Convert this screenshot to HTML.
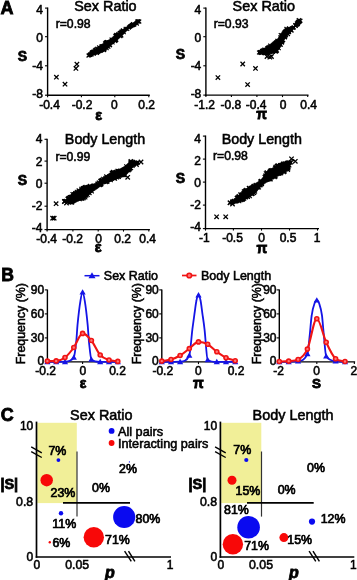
<!DOCTYPE html>
<html><head><meta charset="utf-8"><title>Figure</title>
<style>html,body{margin:0;padding:0;background:#fff}svg{display:block}text{font-family:"Liberation Sans",sans-serif;fill:#000;stroke:#000;stroke-width:0.55px}text[font-weight=bold]{stroke-width:0.8px}text.p{stroke-width:0.7px}</style>
</head><body>
<svg width="357" height="580" viewBox="0 0 357 580">
<rect width="357" height="580" fill="#fff"/>
<text x="0.6" y="14.2" font-size="18" font-weight="bold">A</text>
<line x1="47.6" y1="7.5" x2="47.6" y2="95.9" stroke="#000" stroke-width="1.4"/>
<line x1="46.9" y1="95.2" x2="149.8" y2="95.2" stroke="#000" stroke-width="1.4"/>
<line x1="45.0" y1="8.1" x2="47.6" y2="8.1" stroke="#000" stroke-width="1.1"/>
<text x="43.0" y="13.9" font-size="12" text-anchor="end">4</text>
<line x1="45.0" y1="36.7" x2="47.6" y2="36.7" stroke="#000" stroke-width="1.1"/>
<text x="43.0" y="41.7" font-size="12" text-anchor="end">0</text>
<line x1="45.0" y1="65.8" x2="47.6" y2="65.8" stroke="#000" stroke-width="1.1"/>
<text x="43.0" y="70.4" font-size="12" text-anchor="end">-4</text>
<line x1="45.0" y1="95.2" x2="47.6" y2="95.2" stroke="#000" stroke-width="1.1"/>
<text x="43.0" y="98.3" font-size="12" text-anchor="end">-8</text>
<line x1="47.6" y1="95.2" x2="47.6" y2="97.2" stroke="#000" stroke-width="1.1"/>
<text x="49.5" y="108.8" font-size="12" text-anchor="middle">-0.4</text>
<line x1="81.4" y1="95.2" x2="81.4" y2="97.2" stroke="#000" stroke-width="1.1"/>
<text x="82" y="108.8" font-size="12" text-anchor="middle">-0.2</text>
<line x1="114.8" y1="95.2" x2="114.8" y2="97.2" stroke="#000" stroke-width="1.1"/>
<text x="114.3" y="108.8" font-size="12" text-anchor="middle">0</text>
<line x1="148.8" y1="95.2" x2="148.8" y2="97.2" stroke="#000" stroke-width="1.1"/>
<text x="146.7" y="108.8" font-size="12" text-anchor="middle">0.2</text>
<text x="105.4" y="10.5" font-size="14.4" text-anchor="middle">Sex Ratio</text>
<text x="55.7" y="28.4" font-size="12.2">r=0.98</text>
<text x="98.6" y="119.6" font-size="14.5" text-anchor="middle" font-weight="bold">ε</text>
<text x="22.5" y="60.8" font-size="14" text-anchor="middle" font-weight="bold">S</text>
<path d="M90.0 54.0L91.2 52.5L92.4 51.2L93.6 50.3L94.8 49.4L96.0 48.5L97.2 47.6L98.4 46.7L99.6 45.9L100.8 45.1L102.0 44.2L103.1 43.4L104.3 42.6L105.5 41.8L106.7 41.1L107.9 40.5L109.1 39.8L110.3 39.0L111.5 37.9L112.7 36.9L113.9 35.8L115.1 34.7L116.3 34.0L117.5 33.3L118.7 32.5L119.9 31.8L121.1 30.8L122.3 29.9L123.5 28.9L124.7 28.0L125.9 27.4L127.0 26.9L128.2 26.5L129.4 26.2L130.6 25.7L131.8 24.5L133.0 23.0L134.2 22.1L135.4 21.1L136.6 20.5L137.8 20.6L137.8 24.0L136.6 25.1L135.4 25.6L134.2 25.8L133.0 26.0L131.8 26.1L130.6 26.5L129.4 27.7L128.2 29.1L127.0 30.5L125.9 31.8L124.7 33.0L123.5 34.2L122.3 35.3L121.1 36.5L119.9 37.6L118.7 38.7L117.5 39.9L116.3 41.0L115.1 42.1L113.9 43.1L112.7 44.1L111.5 45.1L110.3 46.0L109.1 47.1L107.9 48.3L106.7 49.4L105.5 50.6L104.3 51.4L103.1 51.9L102.0 52.4L100.8 52.9L99.6 53.4L98.4 53.8L97.2 54.2L96.0 54.5L94.8 54.8L93.6 55.1L92.4 55.4L91.2 55.5L90.0 55.4Z" fill="#000" stroke="#000" stroke-width="0.6" stroke-linejoin="round"/>
<path d="M103.1 41.5l3.8 3.8m-3.8 0l3.8 -3.8M119.7 29.5l3.8 3.8m-3.8 0l3.8 -3.8M113.8 34.3l3.8 3.8m-3.8 0l3.8 -3.8M89.5 52.1l3.8 3.8m-3.8 0l3.8 -3.8M88.5 52.5l3.8 3.8m-3.8 0l3.8 -3.8M90.1 50.4l3.8 3.8m-3.8 0l3.8 -3.8M108.2 43.2l3.8 3.8m-3.8 0l3.8 -3.8M92.9 48.7l3.8 3.8m-3.8 0l3.8 -3.8M118.5 34.4l3.8 3.8m-3.8 0l3.8 -3.8M115.9 33.0l3.8 3.8m-3.8 0l3.8 -3.8M136.2 19.5l3.8 3.8m-3.8 0l3.8 -3.8M130.2 23.1l3.8 3.8m-3.8 0l3.8 -3.8M93.9 47.7l3.8 3.8m-3.8 0l3.8 -3.8M102.3 48.2l3.8 3.8m-3.8 0l3.8 -3.8M95.8 50.1l3.8 3.8m-3.8 0l3.8 -3.8M119.1 30.6l3.8 3.8m-3.8 0l3.8 -3.8M114.4 33.0l3.8 3.8m-3.8 0l3.8 -3.8M89.6 51.1l3.8 3.8m-3.8 0l3.8 -3.8M121.2 29.1l3.8 3.8m-3.8 0l3.8 -3.8M102.6 47.0l3.8 3.8m-3.8 0l3.8 -3.8M109.6 37.6l3.8 3.8m-3.8 0l3.8 -3.8M127.0 25.7l3.8 3.8m-3.8 0l3.8 -3.8M99.0 48.6l3.8 3.8m-3.8 0l3.8 -3.8M113.3 39.1l3.8 3.8m-3.8 0l3.8 -3.8M123.7 26.8l3.8 3.8m-3.8 0l3.8 -3.8M136.4 19.5l3.8 3.8m-3.8 0l3.8 -3.8M107.8 43.3l3.8 3.8m-3.8 0l3.8 -3.8M94.3 48.9l3.8 3.8m-3.8 0l3.8 -3.8M88.6 52.7l3.8 3.8m-3.8 0l3.8 -3.8M125.4 27.0l3.8 3.8m-3.8 0l3.8 -3.8M131.1 22.1l3.8 3.8m-3.8 0l3.8 -3.8M121.9 30.3l3.8 3.8m-3.8 0l3.8 -3.8M116.1 33.3l3.8 3.8m-3.8 0l3.8 -3.8M129.3 23.8l3.8 3.8m-3.8 0l3.8 -3.8M110.7 40.6l3.8 3.8m-3.8 0l3.8 -3.8M89.7 52.5l3.8 3.8m-3.8 0l3.8 -3.8M119.5 33.5l3.8 3.8m-3.8 0l3.8 -3.8M128.4 24.5l3.8 3.8m-3.8 0l3.8 -3.8M106.2 44.5l3.8 3.8m-3.8 0l3.8 -3.8M87.7 53.0l3.8 3.8m-3.8 0l3.8 -3.8M95.1 46.8l3.8 3.8m-3.8 0l3.8 -3.8M89.6 52.6l3.8 3.8m-3.8 0l3.8 -3.8M93.2 48.5l3.8 3.8m-3.8 0l3.8 -3.8M106.5 44.9l3.8 3.8m-3.8 0l3.8 -3.8M90.7 50.7l3.8 3.8m-3.8 0l3.8 -3.8M114.5 37.9l3.8 3.8m-3.8 0l3.8 -3.8M128.2 24.6l3.8 3.8m-3.8 0l3.8 -3.8M100.7 44.2l3.8 3.8m-3.8 0l3.8 -3.8M104.8 46.4l3.8 3.8m-3.8 0l3.8 -3.8M135.3 19.6l3.8 3.8m-3.8 0l3.8 -3.8M95.6 46.8l3.8 3.8m-3.8 0l3.8 -3.8M98.5 46.4l3.8 3.8m-3.8 0l3.8 -3.8M116.5 32.1l3.8 3.8m-3.8 0l3.8 -3.8M86.8 53.6l3.8 3.8m-3.8 0l3.8 -3.8M105.4 44.6l3.8 3.8m-3.8 0l3.8 -3.8M135.0 21.7l3.8 3.8m-3.8 0l3.8 -3.8M112.8 38.6l3.8 3.8m-3.8 0l3.8 -3.8M121.0 28.4l3.8 3.8m-3.8 0l3.8 -3.8M132.3 22.9l3.8 3.8m-3.8 0l3.8 -3.8M131.0 23.2l3.8 3.8m-3.8 0l3.8 -3.8M106.5 40.4l3.8 3.8m-3.8 0l3.8 -3.8M91.9 51.8l3.8 3.8m-3.8 0l3.8 -3.8M89.8 50.9l3.8 3.8m-3.8 0l3.8 -3.8M97.2 45.5l3.8 3.8m-3.8 0l3.8 -3.8M103.9 40.7l3.8 3.8m-3.8 0l3.8 -3.8M86.6 53.7l3.8 3.8m-3.8 0l3.8 -3.8M91.8 49.7l3.8 3.8m-3.8 0l3.8 -3.8M87.9 52.9l3.8 3.8m-3.8 0l3.8 -3.8M117.8 31.0l3.8 3.8m-3.8 0l3.8 -3.8M99.4 44.7l3.8 3.8m-3.8 0l3.8 -3.8M105.1 40.2l3.8 3.8m-3.8 0l3.8 -3.8M129.7 23.5l3.8 3.8m-3.8 0l3.8 -3.8M110.3 38.2l3.8 3.8m-3.8 0l3.8 -3.8M91.0 49.9l3.8 3.8m-3.8 0l3.8 -3.8M104.0 41.3l3.8 3.8m-3.8 0l3.8 -3.8M128.7 24.2l3.8 3.8m-3.8 0l3.8 -3.8M87.8 53.0l3.8 3.8m-3.8 0l3.8 -3.8M113.4 33.8l3.8 3.8m-3.8 0l3.8 -3.8M114.2 33.1l3.8 3.8m-3.8 0l3.8 -3.8M113.4 39.1l3.8 3.8m-3.8 0l3.8 -3.8M130.5 23.2l3.8 3.8m-3.8 0l3.8 -3.8M99.9 44.5l3.8 3.8m-3.8 0l3.8 -3.8M95.1 51.1l3.8 3.8m-3.8 0l3.8 -3.8M113.7 38.5l3.8 3.8m-3.8 0l3.8 -3.8M103.3 41.5l3.8 3.8m-3.8 0l3.8 -3.8M127.8 24.8l3.8 3.8m-3.8 0l3.8 -3.8M129.9 23.4l3.8 3.8m-3.8 0l3.8 -3.8M128.2 24.6l3.8 3.8m-3.8 0l3.8 -3.8M98.1 48.4l3.8 3.8m-3.8 0l3.8 -3.8M104.7 40.2l3.8 3.8m-3.8 0l3.8 -3.8M86.6 53.7l3.8 3.8m-3.8 0l3.8 -3.8M137.4 19.7l3.8 3.8m-3.8 0l3.8 -3.8" stroke="#000" stroke-width="1.2" fill="none"/>
<path d="M54.2 75.0l4.4 4.4m-4.4 0l4.4 -4.4M62.8 82.0l4.4 4.4m-4.4 0l4.4 -4.4M74.7 62.0l4.4 4.4m-4.4 0l4.4 -4.4M73.7 66.2l4.4 4.4m-4.4 0l4.4 -4.4" stroke="#000" stroke-width="1.3" fill="none"/>
<line x1="205.9" y1="7.5" x2="205.9" y2="95.8" stroke="#000" stroke-width="1.4"/>
<line x1="205.20000000000002" y1="95.1" x2="308.5" y2="95.1" stroke="#000" stroke-width="1.4"/>
<line x1="203.3" y1="8.1" x2="205.9" y2="8.1" stroke="#000" stroke-width="1.1"/>
<text x="201.3" y="13.9" font-size="12" text-anchor="end">4</text>
<line x1="203.3" y1="36.7" x2="205.9" y2="36.7" stroke="#000" stroke-width="1.1"/>
<text x="201.3" y="41.7" font-size="12" text-anchor="end">0</text>
<line x1="203.3" y1="65.8" x2="205.9" y2="65.8" stroke="#000" stroke-width="1.1"/>
<text x="201.3" y="70.4" font-size="12" text-anchor="end">-4</text>
<line x1="203.3" y1="95.1" x2="205.9" y2="95.1" stroke="#000" stroke-width="1.1"/>
<text x="201.3" y="98.3" font-size="12" text-anchor="end">-8</text>
<line x1="205.9" y1="95.1" x2="205.9" y2="97.1" stroke="#000" stroke-width="1.1"/>
<text x="204.7" y="108.69999999999999" font-size="12" text-anchor="middle">-1.2</text>
<line x1="231.4" y1="95.1" x2="231.4" y2="97.1" stroke="#000" stroke-width="1.1"/>
<text x="230.9" y="108.69999999999999" font-size="12" text-anchor="middle">-0.8</text>
<line x1="256.9" y1="95.1" x2="256.9" y2="97.1" stroke="#000" stroke-width="1.1"/>
<text x="256.2" y="108.69999999999999" font-size="12" text-anchor="middle">-0.4</text>
<line x1="282.5" y1="95.1" x2="282.5" y2="97.1" stroke="#000" stroke-width="1.1"/>
<text x="283.1" y="108.69999999999999" font-size="12" text-anchor="middle">0</text>
<line x1="307.7" y1="95.1" x2="307.7" y2="97.1" stroke="#000" stroke-width="1.1"/>
<text x="308.6" y="108.69999999999999" font-size="12" text-anchor="middle">0.4</text>
<text x="263.8" y="10.5" font-size="14.4" text-anchor="middle">Sex Ratio</text>
<text x="213.7" y="28.4" font-size="12.2">r=0.93</text>
<text x="261.5" y="119.3" font-size="14" text-anchor="middle" font-weight="bold">π</text>
<text x="180.5" y="59.3" font-size="14" text-anchor="middle" font-weight="bold">S</text>
<path d="M260.5 51.1L261.5 50.5L262.4 49.9L263.4 49.3L264.4 48.8L265.3 48.2L266.3 47.6L267.2 46.8L268.2 46.2L269.2 45.4L270.1 44.5L271.1 43.6L272.1 42.6L273.0 41.7L274.0 40.7L274.9 40.3L275.9 39.9L276.9 39.6L277.8 38.4L278.8 37.1L279.8 35.9L280.7 34.3L281.7 32.5L282.6 30.8L283.6 29.6L284.6 28.9L285.5 28.1L286.5 27.7L287.4 27.6L288.4 27.5L289.4 27.3L290.3 27.2L291.3 27.1L292.3 27.0L293.2 26.8L294.2 26.0L295.1 24.2L296.1 22.8L297.1 21.8L298.0 20.8L299.0 20.8L299.0 23.2L298.0 24.7L297.1 25.4L296.1 26.1L295.1 26.9L294.2 27.9L293.2 29.1L292.3 30.6L291.3 31.8L290.3 32.9L289.4 34.0L288.4 34.9L287.4 35.6L286.5 36.4L285.5 37.5L284.6 39.1L283.6 40.6L282.6 42.3L281.7 44.2L280.7 46.1L279.8 47.9L278.8 49.3L277.8 50.7L276.9 52.0L275.9 52.5L274.9 53.0L274.0 53.5L273.0 53.6L272.1 53.6L271.1 53.7L270.1 53.8L269.2 53.9L268.2 54.0L267.2 54.1L266.3 54.2L265.3 54.1L264.4 53.9L263.4 53.7L262.4 53.5L261.5 53.4L260.5 53.2Z" fill="#000" stroke="#000" stroke-width="0.6" stroke-linejoin="round"/>
<path d="M258.3 50.2l3.8 3.8m-3.8 0l3.8 -3.8M267.9 50.1l3.8 3.8m-3.8 0l3.8 -3.8M296.8 20.1l3.8 3.8m-3.8 0l3.8 -3.8M296.0 22.2l3.8 3.8m-3.8 0l3.8 -3.8M296.7 20.0l3.8 3.8m-3.8 0l3.8 -3.8M266.2 45.7l3.8 3.8m-3.8 0l3.8 -3.8M265.3 46.3l3.8 3.8m-3.8 0l3.8 -3.8M283.0 35.5l3.8 3.8m-3.8 0l3.8 -3.8M292.0 25.5l3.8 3.8m-3.8 0l3.8 -3.8M284.2 33.4l3.8 3.8m-3.8 0l3.8 -3.8M260.6 50.5l3.8 3.8m-3.8 0l3.8 -3.8M294.9 22.8l3.8 3.8m-3.8 0l3.8 -3.8M288.2 27.6l3.8 3.8m-3.8 0l3.8 -3.8M264.5 51.1l3.8 3.8m-3.8 0l3.8 -3.8M270.9 50.1l3.8 3.8m-3.8 0l3.8 -3.8M297.4 19.8l3.8 3.8m-3.8 0l3.8 -3.8M273.8 49.7l3.8 3.8m-3.8 0l3.8 -3.8M287.2 26.6l3.8 3.8m-3.8 0l3.8 -3.8M262.4 47.9l3.8 3.8m-3.8 0l3.8 -3.8M294.7 22.9l3.8 3.8m-3.8 0l3.8 -3.8M263.2 51.1l3.8 3.8m-3.8 0l3.8 -3.8M297.8 19.6l3.8 3.8m-3.8 0l3.8 -3.8M271.6 47.8l3.8 3.8m-3.8 0l3.8 -3.8M262.5 47.6l3.8 3.8m-3.8 0l3.8 -3.8M297.4 20.0l3.8 3.8m-3.8 0l3.8 -3.8M279.0 42.9l3.8 3.8m-3.8 0l3.8 -3.8M275.1 48.7l3.8 3.8m-3.8 0l3.8 -3.8M291.4 25.8l3.8 3.8m-3.8 0l3.8 -3.8M267.6 45.0l3.8 3.8m-3.8 0l3.8 -3.8M267.1 49.6l3.8 3.8m-3.8 0l3.8 -3.8M267.9 45.5l3.8 3.8m-3.8 0l3.8 -3.8M262.5 51.1l3.8 3.8m-3.8 0l3.8 -3.8M271.8 43.1l3.8 3.8m-3.8 0l3.8 -3.8M281.3 38.2l3.8 3.8m-3.8 0l3.8 -3.8M274.6 49.2l3.8 3.8m-3.8 0l3.8 -3.8M277.9 41.9l3.8 3.8m-3.8 0l3.8 -3.8M278.8 33.2l3.8 3.8m-3.8 0l3.8 -3.8M275.4 38.8l3.8 3.8m-3.8 0l3.8 -3.8M257.3 50.6l3.8 3.8m-3.8 0l3.8 -3.8M264.3 48.1l3.8 3.8m-3.8 0l3.8 -3.8M287.2 30.2l3.8 3.8m-3.8 0l3.8 -3.8M270.6 47.5l3.8 3.8m-3.8 0l3.8 -3.8M280.2 39.9l3.8 3.8m-3.8 0l3.8 -3.8M261.5 50.3l3.8 3.8m-3.8 0l3.8 -3.8M267.4 45.1l3.8 3.8m-3.8 0l3.8 -3.8M289.1 28.1l3.8 3.8m-3.8 0l3.8 -3.8M280.4 39.2l3.8 3.8m-3.8 0l3.8 -3.8M295.0 21.4l3.8 3.8m-3.8 0l3.8 -3.8M282.5 33.1l3.8 3.8m-3.8 0l3.8 -3.8M278.4 42.9l3.8 3.8m-3.8 0l3.8 -3.8M275.9 44.8l3.8 3.8m-3.8 0l3.8 -3.8M276.9 46.3l3.8 3.8m-3.8 0l3.8 -3.8M286.1 32.2l3.8 3.8m-3.8 0l3.8 -3.8M296.2 20.0l3.8 3.8m-3.8 0l3.8 -3.8M280.3 40.2l3.8 3.8m-3.8 0l3.8 -3.8M292.0 25.5l3.8 3.8m-3.8 0l3.8 -3.8M262.1 48.7l3.8 3.8m-3.8 0l3.8 -3.8M260.1 49.2l3.8 3.8m-3.8 0l3.8 -3.8M260.1 50.5l3.8 3.8m-3.8 0l3.8 -3.8M289.6 28.7l3.8 3.8m-3.8 0l3.8 -3.8M263.5 50.9l3.8 3.8m-3.8 0l3.8 -3.8M284.5 27.0l3.8 3.8m-3.8 0l3.8 -3.8M293.7 23.7l3.8 3.8m-3.8 0l3.8 -3.8M266.2 51.2l3.8 3.8m-3.8 0l3.8 -3.8M273.6 43.0l3.8 3.8m-3.8 0l3.8 -3.8M298.2 19.2l3.8 3.8m-3.8 0l3.8 -3.8M263.8 48.0l3.8 3.8m-3.8 0l3.8 -3.8M278.5 35.4l3.8 3.8m-3.8 0l3.8 -3.8M265.2 46.7l3.8 3.8m-3.8 0l3.8 -3.8M287.1 26.3l3.8 3.8m-3.8 0l3.8 -3.8M280.1 33.5l3.8 3.8m-3.8 0l3.8 -3.8M257.9 50.4l3.8 3.8m-3.8 0l3.8 -3.8M283.0 32.8l3.8 3.8m-3.8 0l3.8 -3.8M259.8 50.7l3.8 3.8m-3.8 0l3.8 -3.8M289.8 28.6l3.8 3.8m-3.8 0l3.8 -3.8M261.4 48.6l3.8 3.8m-3.8 0l3.8 -3.8M258.7 50.5l3.8 3.8m-3.8 0l3.8 -3.8M268.3 43.7l3.8 3.8m-3.8 0l3.8 -3.8M274.6 49.1l3.8 3.8m-3.8 0l3.8 -3.8M291.1 25.9l3.8 3.8m-3.8 0l3.8 -3.8M263.3 51.3l3.8 3.8m-3.8 0l3.8 -3.8M280.8 38.2l3.8 3.8m-3.8 0l3.8 -3.8M260.8 48.7l3.8 3.8m-3.8 0l3.8 -3.8M285.7 28.0l3.8 3.8m-3.8 0l3.8 -3.8M260.1 50.7l3.8 3.8m-3.8 0l3.8 -3.8M283.4 34.5l3.8 3.8m-3.8 0l3.8 -3.8M260.6 50.7l3.8 3.8m-3.8 0l3.8 -3.8M259.9 50.6l3.8 3.8m-3.8 0l3.8 -3.8M275.9 39.1l3.8 3.8m-3.8 0l3.8 -3.8M280.1 40.7l3.8 3.8m-3.8 0l3.8 -3.8M257.1 50.6l3.8 3.8m-3.8 0l3.8 -3.8M298.6 18.9l3.8 3.8m-3.8 0l3.8 -3.8" stroke="#000" stroke-width="1.2" fill="none"/>
<path d="M215.7 75.4l4.4 4.4m-4.4 0l4.4 -4.4M240.5 61.8l4.4 4.4m-4.4 0l4.4 -4.4M253.3 66.2l4.4 4.4m-4.4 0l4.4 -4.4M245.4 82.4l4.4 4.4m-4.4 0l4.4 -4.4M267.6 55.0l4.4 4.4m-4.4 0l4.4 -4.4M264.8 54.3l4.4 4.4m-4.4 0l4.4 -4.4M258.8 50.3l4.4 4.4m-4.4 0l4.4 -4.4M269.3 54.3l4.4 4.4m-4.4 0l4.4 -4.4M295.7 20.6l4.4 4.4m-4.4 0l4.4 -4.4M293.3 23.3l4.4 4.4m-4.4 0l4.4 -4.4M296.8 18.3l4.4 4.4m-4.4 0l4.4 -4.4" stroke="#000" stroke-width="1.3" fill="none"/>
<line x1="47.1" y1="138.70000000000002" x2="47.1" y2="230.29999999999998" stroke="#000" stroke-width="1.4"/>
<line x1="46.4" y1="229.6" x2="149.9" y2="229.6" stroke="#000" stroke-width="1.4"/>
<line x1="44.5" y1="139.3" x2="47.1" y2="139.3" stroke="#000" stroke-width="1.1"/>
<text x="42.5" y="142.8" font-size="12" text-anchor="end">4</text>
<line x1="44.5" y1="161.1" x2="47.1" y2="161.1" stroke="#000" stroke-width="1.1"/>
<text x="42.5" y="165.8" font-size="12" text-anchor="end">2</text>
<line x1="44.5" y1="183.2" x2="47.1" y2="183.2" stroke="#000" stroke-width="1.1"/>
<text x="42.5" y="188.3" font-size="12" text-anchor="end">0</text>
<line x1="44.5" y1="206.2" x2="47.1" y2="206.2" stroke="#000" stroke-width="1.1"/>
<text x="42.5" y="209.9" font-size="12" text-anchor="end">-2</text>
<line x1="44.5" y1="229.6" x2="47.1" y2="229.6" stroke="#000" stroke-width="1.1"/>
<text x="42.5" y="231.6" font-size="12" text-anchor="end">-4</text>
<line x1="47.1" y1="229.6" x2="47.1" y2="231.6" stroke="#000" stroke-width="1.1"/>
<text x="46.6" y="243.2" font-size="12" text-anchor="middle">-0.4</text>
<line x1="72.9" y1="229.6" x2="72.9" y2="231.6" stroke="#000" stroke-width="1.1"/>
<text x="72.6" y="243.2" font-size="12" text-anchor="middle">-0.2</text>
<line x1="98.2" y1="229.6" x2="98.2" y2="231.6" stroke="#000" stroke-width="1.1"/>
<text x="98.5" y="243.2" font-size="12" text-anchor="middle">0</text>
<line x1="123.5" y1="229.6" x2="123.5" y2="231.6" stroke="#000" stroke-width="1.1"/>
<text x="122.6" y="243.2" font-size="12" text-anchor="middle">0.2</text>
<line x1="148.8" y1="229.6" x2="148.8" y2="231.6" stroke="#000" stroke-width="1.1"/>
<text x="147.7" y="243.2" font-size="12" text-anchor="middle">0.4</text>
<text x="105" y="143.7" font-size="14.3" text-anchor="middle">Body Length</text>
<text x="55.4" y="160.7" font-size="12.2">r=0.99</text>
<text x="98.3" y="252.3" font-size="14.5" text-anchor="middle" font-weight="bold">ε</text>
<text x="22.5" y="184.8" font-size="14" text-anchor="middle" font-weight="bold">S</text>
<path d="M65.9 199.5L67.7 197.8L69.4 196.0L71.2 194.1L73.0 192.4L74.7 191.4L76.5 190.4L78.3 189.5L80.0 188.5L81.8 187.7L83.6 186.8L85.3 186.0L87.1 185.6L88.8 185.2L90.6 184.9L92.4 184.4L94.1 183.8L95.9 183.2L97.7 182.5L99.4 180.9L101.2 179.3L103.0 177.6L104.7 176.5L106.5 175.4L108.3 174.1L110.0 172.8L111.8 171.6L113.6 170.8L115.3 170.4L117.1 170.0L118.9 169.6L120.6 168.6L122.4 167.6L124.1 166.6L125.9 165.2L127.7 163.4L129.4 161.7L131.2 160.3L133.0 161.0L134.7 162.1L136.5 162.2L136.5 163.8L134.7 165.0L133.0 167.0L131.2 168.9L129.4 171.3L127.7 173.4L125.9 175.2L124.1 176.3L122.4 176.8L120.6 177.3L118.9 177.8L117.1 178.6L115.3 179.4L113.6 180.2L111.8 180.9L110.0 181.7L108.3 182.4L106.5 183.1L104.7 183.6L103.0 184.1L101.2 185.5L99.4 187.0L97.7 188.4L95.9 189.6L94.1 190.7L92.4 191.9L90.6 193.4L88.8 195.2L87.1 196.9L85.3 198.7L83.6 199.3L81.8 199.8L80.0 200.3L78.3 201.0L76.5 202.0L74.7 203.0L73.0 203.9L71.2 203.6L69.4 203.0L67.7 202.5L65.9 202.2Z" fill="#000" stroke="#000" stroke-width="0.6" stroke-linejoin="round"/>
<path d="M82.2 186.0l3.8 3.8m-3.8 0l3.8 -3.8M101.3 176.9l3.8 3.8m-3.8 0l3.8 -3.8M70.6 192.2l3.8 3.8m-3.8 0l3.8 -3.8M66.2 196.6l3.8 3.8m-3.8 0l3.8 -3.8M85.5 185.8l3.8 3.8m-3.8 0l3.8 -3.8M118.4 168.6l3.8 3.8m-3.8 0l3.8 -3.8M99.3 178.5l3.8 3.8m-3.8 0l3.8 -3.8M88.0 184.0l3.8 3.8m-3.8 0l3.8 -3.8M80.9 186.1l3.8 3.8m-3.8 0l3.8 -3.8M116.5 173.4l3.8 3.8m-3.8 0l3.8 -3.8M76.4 191.5l3.8 3.8m-3.8 0l3.8 -3.8M131.3 160.2l3.8 3.8m-3.8 0l3.8 -3.8M122.8 167.3l3.8 3.8m-3.8 0l3.8 -3.8M98.9 182.8l3.8 3.8m-3.8 0l3.8 -3.8M91.4 186.4l3.8 3.8m-3.8 0l3.8 -3.8M113.1 176.8l3.8 3.8m-3.8 0l3.8 -3.8M87.7 191.2l3.8 3.8m-3.8 0l3.8 -3.8M114.5 174.9l3.8 3.8m-3.8 0l3.8 -3.8M92.3 183.6l3.8 3.8m-3.8 0l3.8 -3.8M66.5 196.2l3.8 3.8m-3.8 0l3.8 -3.8M67.7 199.7l3.8 3.8m-3.8 0l3.8 -3.8M81.3 186.6l3.8 3.8m-3.8 0l3.8 -3.8M68.7 200.3l3.8 3.8m-3.8 0l3.8 -3.8M126.6 168.5l3.8 3.8m-3.8 0l3.8 -3.8M83.3 186.1l3.8 3.8m-3.8 0l3.8 -3.8M84.1 187.8l3.8 3.8m-3.8 0l3.8 -3.8M74.1 192.3l3.8 3.8m-3.8 0l3.8 -3.8M81.9 196.4l3.8 3.8m-3.8 0l3.8 -3.8M134.1 161.3l3.8 3.8m-3.8 0l3.8 -3.8M80.5 196.8l3.8 3.8m-3.8 0l3.8 -3.8M85.3 186.2l3.8 3.8m-3.8 0l3.8 -3.8M62.6 199.6l3.8 3.8m-3.8 0l3.8 -3.8M97.4 182.5l3.8 3.8m-3.8 0l3.8 -3.8M77.3 193.8l3.8 3.8m-3.8 0l3.8 -3.8M62.9 199.4l3.8 3.8m-3.8 0l3.8 -3.8M69.1 194.8l3.8 3.8m-3.8 0l3.8 -3.8M65.6 196.9l3.8 3.8m-3.8 0l3.8 -3.8M84.9 185.5l3.8 3.8m-3.8 0l3.8 -3.8M105.6 178.0l3.8 3.8m-3.8 0l3.8 -3.8M117.7 173.7l3.8 3.8m-3.8 0l3.8 -3.8M115.2 175.5l3.8 3.8m-3.8 0l3.8 -3.8M91.2 183.9l3.8 3.8m-3.8 0l3.8 -3.8M135.0 161.0l3.8 3.8m-3.8 0l3.8 -3.8M115.8 174.4l3.8 3.8m-3.8 0l3.8 -3.8M65.7 199.6l3.8 3.8m-3.8 0l3.8 -3.8M128.1 166.3l3.8 3.8m-3.8 0l3.8 -3.8M116.5 174.8l3.8 3.8m-3.8 0l3.8 -3.8M72.8 197.0l3.8 3.8m-3.8 0l3.8 -3.8M99.6 182.3l3.8 3.8m-3.8 0l3.8 -3.8M121.7 173.2l3.8 3.8m-3.8 0l3.8 -3.8M105.5 179.8l3.8 3.8m-3.8 0l3.8 -3.8M112.8 175.9l3.8 3.8m-3.8 0l3.8 -3.8M79.4 186.9l3.8 3.8m-3.8 0l3.8 -3.8M72.3 192.4l3.8 3.8m-3.8 0l3.8 -3.8M70.2 200.7l3.8 3.8m-3.8 0l3.8 -3.8M103.6 179.6l3.8 3.8m-3.8 0l3.8 -3.8M108.6 177.7l3.8 3.8m-3.8 0l3.8 -3.8M98.5 178.9l3.8 3.8m-3.8 0l3.8 -3.8M121.2 173.0l3.8 3.8m-3.8 0l3.8 -3.8M99.5 181.2l3.8 3.8m-3.8 0l3.8 -3.8M111.0 170.0l3.8 3.8m-3.8 0l3.8 -3.8M116.7 169.2l3.8 3.8m-3.8 0l3.8 -3.8M68.0 195.1l3.8 3.8m-3.8 0l3.8 -3.8M116.2 169.2l3.8 3.8m-3.8 0l3.8 -3.8M117.0 175.0l3.8 3.8m-3.8 0l3.8 -3.8M98.9 179.5l3.8 3.8m-3.8 0l3.8 -3.8M97.8 183.4l3.8 3.8m-3.8 0l3.8 -3.8M118.9 173.1l3.8 3.8m-3.8 0l3.8 -3.8M109.8 170.8l3.8 3.8m-3.8 0l3.8 -3.8M73.4 191.1l3.8 3.8m-3.8 0l3.8 -3.8M117.2 169.3l3.8 3.8m-3.8 0l3.8 -3.8M104.3 174.5l3.8 3.8m-3.8 0l3.8 -3.8M67.0 196.0l3.8 3.8m-3.8 0l3.8 -3.8M112.0 176.2l3.8 3.8m-3.8 0l3.8 -3.8M112.2 170.6l3.8 3.8m-3.8 0l3.8 -3.8M100.5 178.5l3.8 3.8m-3.8 0l3.8 -3.8M96.8 180.7l3.8 3.8m-3.8 0l3.8 -3.8M128.3 160.6l3.8 3.8m-3.8 0l3.8 -3.8M134.5 161.1l3.8 3.8m-3.8 0l3.8 -3.8M63.8 198.9l3.8 3.8m-3.8 0l3.8 -3.8M122.8 173.3l3.8 3.8m-3.8 0l3.8 -3.8M95.6 182.0l3.8 3.8m-3.8 0l3.8 -3.8M77.9 197.4l3.8 3.8m-3.8 0l3.8 -3.8M78.0 195.2l3.8 3.8m-3.8 0l3.8 -3.8M72.9 196.9l3.8 3.8m-3.8 0l3.8 -3.8M132.6 160.9l3.8 3.8m-3.8 0l3.8 -3.8M122.9 170.3l3.8 3.8m-3.8 0l3.8 -3.8M127.8 167.2l3.8 3.8m-3.8 0l3.8 -3.8M79.5 196.8l3.8 3.8m-3.8 0l3.8 -3.8M98.3 179.2l3.8 3.8m-3.8 0l3.8 -3.8M62.8 199.5l3.8 3.8m-3.8 0l3.8 -3.8M95.7 182.1l3.8 3.8m-3.8 0l3.8 -3.8M72.9 191.9l3.8 3.8m-3.8 0l3.8 -3.8M85.8 193.1l3.8 3.8m-3.8 0l3.8 -3.8M62.6 199.5l3.8 3.8m-3.8 0l3.8 -3.8M124.3 164.3l3.8 3.8m-3.8 0l3.8 -3.8M130.7 164.0l3.8 3.8m-3.8 0l3.8 -3.8M128.9 160.5l3.8 3.8m-3.8 0l3.8 -3.8M89.9 184.8l3.8 3.8m-3.8 0l3.8 -3.8M136.0 160.6l3.8 3.8m-3.8 0l3.8 -3.8M89.0 185.3l3.8 3.8m-3.8 0l3.8 -3.8M82.8 185.4l3.8 3.8m-3.8 0l3.8 -3.8M70.0 200.6l3.8 3.8m-3.8 0l3.8 -3.8M83.5 195.6l3.8 3.8m-3.8 0l3.8 -3.8M80.9 187.4l3.8 3.8m-3.8 0l3.8 -3.8M100.1 177.8l3.8 3.8m-3.8 0l3.8 -3.8M90.0 189.5l3.8 3.8m-3.8 0l3.8 -3.8M127.6 167.9l3.8 3.8m-3.8 0l3.8 -3.8M108.9 178.4l3.8 3.8m-3.8 0l3.8 -3.8M131.7 162.6l3.8 3.8m-3.8 0l3.8 -3.8M115.5 168.9l3.8 3.8m-3.8 0l3.8 -3.8M116.4 170.5l3.8 3.8m-3.8 0l3.8 -3.8M117.9 173.6l3.8 3.8m-3.8 0l3.8 -3.8M83.6 185.0l3.8 3.8m-3.8 0l3.8 -3.8M130.7 159.9l3.8 3.8m-3.8 0l3.8 -3.8M97.3 180.8l3.8 3.8m-3.8 0l3.8 -3.8M84.4 193.8l3.8 3.8m-3.8 0l3.8 -3.8M134.4 161.2l3.8 3.8m-3.8 0l3.8 -3.8M110.8 171.0l3.8 3.8m-3.8 0l3.8 -3.8M103.5 176.2l3.8 3.8m-3.8 0l3.8 -3.8M74.8 189.8l3.8 3.8m-3.8 0l3.8 -3.8M77.8 197.3l3.8 3.8m-3.8 0l3.8 -3.8M99.1 178.8l3.8 3.8m-3.8 0l3.8 -3.8M129.2 166.4l3.8 3.8m-3.8 0l3.8 -3.8M95.6 181.7l3.8 3.8m-3.8 0l3.8 -3.8M76.7 188.5l3.8 3.8m-3.8 0l3.8 -3.8M87.7 184.3l3.8 3.8m-3.8 0l3.8 -3.8M80.1 187.7l3.8 3.8m-3.8 0l3.8 -3.8M104.4 180.2l3.8 3.8m-3.8 0l3.8 -3.8M117.7 169.6l3.8 3.8m-3.8 0l3.8 -3.8M62.5 199.6l3.8 3.8m-3.8 0l3.8 -3.8M136.1 160.6l3.8 3.8m-3.8 0l3.8 -3.8" stroke="#000" stroke-width="1.2" fill="none"/>
<path d="M50.4 216.0l4.4 4.4m-4.4 0l4.4 -4.4M52.0 216.0l4.4 4.4m-4.4 0l4.4 -4.4M53.9 201.5l4.4 4.4m-4.4 0l4.4 -4.4M138.8 159.8l4.4 4.4m-4.4 0l4.4 -4.4M128.7 159.3l4.4 4.4m-4.4 0l4.4 -4.4M125.5 175.1l4.4 4.4m-4.4 0l4.4 -4.4M134.3 162.3l4.4 4.4m-4.4 0l4.4 -4.4M62.2 199.3l4.4 4.4m-4.4 0l4.4 -4.4M64.3 200.8l4.4 4.4m-4.4 0l4.4 -4.4" stroke="#000" stroke-width="1.3" fill="none"/>
<line x1="205.5" y1="135.5" x2="205.5" y2="229.29999999999998" stroke="#000" stroke-width="1.4"/>
<line x1="204.8" y1="228.6" x2="319" y2="228.6" stroke="#000" stroke-width="1.4"/>
<line x1="202.9" y1="136.1" x2="205.5" y2="136.1" stroke="#000" stroke-width="1.1"/>
<text x="200.9" y="142.7" font-size="12" text-anchor="end">4</text>
<line x1="202.9" y1="159.1" x2="205.5" y2="159.1" stroke="#000" stroke-width="1.1"/>
<text x="200.9" y="164.8" font-size="12" text-anchor="end">2</text>
<line x1="202.9" y1="182.1" x2="205.5" y2="182.1" stroke="#000" stroke-width="1.1"/>
<text x="200.9" y="187.1" font-size="12" text-anchor="end">0</text>
<line x1="202.9" y1="205.1" x2="205.5" y2="205.1" stroke="#000" stroke-width="1.1"/>
<text x="200.9" y="209.3" font-size="12" text-anchor="end">-2</text>
<line x1="202.9" y1="228.6" x2="205.5" y2="228.6" stroke="#000" stroke-width="1.1"/>
<text x="200.9" y="231.1" font-size="12" text-anchor="end">-4</text>
<line x1="205.5" y1="228.6" x2="205.5" y2="230.6" stroke="#000" stroke-width="1.1"/>
<text x="204.4" y="242.2" font-size="12" text-anchor="middle">-1</text>
<line x1="233.4" y1="228.6" x2="233.4" y2="230.6" stroke="#000" stroke-width="1.1"/>
<text x="232.5" y="242.2" font-size="12" text-anchor="middle">-0.5</text>
<line x1="261.5" y1="228.6" x2="261.5" y2="230.6" stroke="#000" stroke-width="1.1"/>
<text x="261.5" y="242.2" font-size="12" text-anchor="middle">0</text>
<line x1="289.5" y1="228.6" x2="289.5" y2="230.6" stroke="#000" stroke-width="1.1"/>
<text x="288" y="242.2" font-size="12" text-anchor="middle">0.5</text>
<line x1="317.5" y1="228.6" x2="317.5" y2="230.6" stroke="#000" stroke-width="1.1"/>
<text x="317" y="242.2" font-size="12" text-anchor="middle">1</text>
<text x="261.8" y="143.8" font-size="14.3" text-anchor="middle">Body Length</text>
<text x="213" y="159.8" font-size="12.2">r=0.98</text>
<text x="261.8" y="252.5" font-size="14" text-anchor="middle" font-weight="bold">π</text>
<text x="180.5" y="183.2" font-size="14" text-anchor="middle" font-weight="bold">S</text>
<path d="M231.5 201.2L232.9 200.2L234.4 199.1L235.8 197.8L237.3 196.4L238.8 195.1L240.2 193.7L241.7 192.4L243.1 191.1L244.6 189.9L246.0 188.9L247.4 187.9L248.9 186.9L250.3 185.9L251.8 185.2L253.2 184.5L254.7 183.7L256.1 183.0L257.6 182.1L259.1 181.1L260.5 180.0L261.9 178.6L263.4 176.8L264.9 174.2L266.3 171.7L267.8 170.8L269.2 170.0L270.6 169.1L272.1 168.2L273.6 167.2L275.0 166.2L276.4 165.2L277.9 164.2L279.4 163.4L280.8 163.1L282.2 162.8L283.7 162.5L285.1 162.2L286.6 161.9L288.1 161.6L289.5 161.5L289.5 166.8L288.1 169.6L286.6 171.1L285.1 172.5L283.7 173.2L282.2 174.0L280.8 174.7L279.4 175.4L277.9 176.2L276.4 177.1L275.0 178.0L273.6 178.8L272.1 179.6L270.6 180.4L269.2 181.1L267.8 181.8L266.3 182.5L264.9 183.5L263.4 184.5L261.9 185.7L260.5 187.0L259.1 188.7L257.6 190.4L256.1 192.1L254.7 193.3L253.2 194.4L251.8 195.6L250.3 196.8L248.9 197.5L247.4 198.3L246.0 199.0L244.6 199.7L243.1 200.4L241.7 201.1L240.2 201.9L238.8 202.6L237.3 203.2L235.8 203.3L234.4 203.5L232.9 203.4L231.5 203.4Z" fill="#000" stroke="#000" stroke-width="0.6" stroke-linejoin="round"/>
<path d="M253.3 187.6l3.8 3.8m-3.8 0l3.8 -3.8M251.1 184.9l3.8 3.8m-3.8 0l3.8 -3.8M231.9 198.8l3.8 3.8m-3.8 0l3.8 -3.8M287.1 160.6l3.8 3.8m-3.8 0l3.8 -3.8M258.8 183.1l3.8 3.8m-3.8 0l3.8 -3.8M280.7 162.5l3.8 3.8m-3.8 0l3.8 -3.8M244.6 188.4l3.8 3.8m-3.8 0l3.8 -3.8M252.5 184.9l3.8 3.8m-3.8 0l3.8 -3.8M286.3 166.4l3.8 3.8m-3.8 0l3.8 -3.8M281.3 161.6l3.8 3.8m-3.8 0l3.8 -3.8M230.1 200.6l3.8 3.8m-3.8 0l3.8 -3.8M282.7 164.1l3.8 3.8m-3.8 0l3.8 -3.8M263.9 171.4l3.8 3.8m-3.8 0l3.8 -3.8M252.0 191.0l3.8 3.8m-3.8 0l3.8 -3.8M278.5 171.6l3.8 3.8m-3.8 0l3.8 -3.8M287.4 160.8l3.8 3.8m-3.8 0l3.8 -3.8M234.8 196.2l3.8 3.8m-3.8 0l3.8 -3.8M260.0 182.3l3.8 3.8m-3.8 0l3.8 -3.8M285.5 166.7l3.8 3.8m-3.8 0l3.8 -3.8M267.6 177.3l3.8 3.8m-3.8 0l3.8 -3.8M256.0 185.6l3.8 3.8m-3.8 0l3.8 -3.8M230.5 200.6l3.8 3.8m-3.8 0l3.8 -3.8M242.3 196.9l3.8 3.8m-3.8 0l3.8 -3.8M267.5 170.1l3.8 3.8m-3.8 0l3.8 -3.8M235.9 195.4l3.8 3.8m-3.8 0l3.8 -3.8M266.9 177.3l3.8 3.8m-3.8 0l3.8 -3.8M234.9 195.8l3.8 3.8m-3.8 0l3.8 -3.8M260.1 181.7l3.8 3.8m-3.8 0l3.8 -3.8M251.8 183.9l3.8 3.8m-3.8 0l3.8 -3.8M264.8 170.4l3.8 3.8m-3.8 0l3.8 -3.8M246.5 188.8l3.8 3.8m-3.8 0l3.8 -3.8M286.6 165.3l3.8 3.8m-3.8 0l3.8 -3.8M282.0 164.3l3.8 3.8m-3.8 0l3.8 -3.8M242.4 189.9l3.8 3.8m-3.8 0l3.8 -3.8M286.7 165.4l3.8 3.8m-3.8 0l3.8 -3.8M246.9 186.0l3.8 3.8m-3.8 0l3.8 -3.8M258.5 183.6l3.8 3.8m-3.8 0l3.8 -3.8M253.7 183.0l3.8 3.8m-3.8 0l3.8 -3.8M268.8 177.4l3.8 3.8m-3.8 0l3.8 -3.8M241.9 189.5l3.8 3.8m-3.8 0l3.8 -3.8M248.7 186.9l3.8 3.8m-3.8 0l3.8 -3.8M269.7 168.2l3.8 3.8m-3.8 0l3.8 -3.8M276.7 171.9l3.8 3.8m-3.8 0l3.8 -3.8M258.9 179.1l3.8 3.8m-3.8 0l3.8 -3.8M287.3 161.1l3.8 3.8m-3.8 0l3.8 -3.8M278.1 163.2l3.8 3.8m-3.8 0l3.8 -3.8M241.6 196.7l3.8 3.8m-3.8 0l3.8 -3.8M246.1 195.1l3.8 3.8m-3.8 0l3.8 -3.8M258.3 179.6l3.8 3.8m-3.8 0l3.8 -3.8M241.7 191.4l3.8 3.8m-3.8 0l3.8 -3.8M268.7 177.5l3.8 3.8m-3.8 0l3.8 -3.8M237.0 195.1l3.8 3.8m-3.8 0l3.8 -3.8M241.1 197.7l3.8 3.8m-3.8 0l3.8 -3.8M236.8 194.2l3.8 3.8m-3.8 0l3.8 -3.8M231.8 199.1l3.8 3.8m-3.8 0l3.8 -3.8M282.9 169.6l3.8 3.8m-3.8 0l3.8 -3.8M272.8 175.4l3.8 3.8m-3.8 0l3.8 -3.8M284.9 161.9l3.8 3.8m-3.8 0l3.8 -3.8M239.4 198.4l3.8 3.8m-3.8 0l3.8 -3.8M273.6 164.9l3.8 3.8m-3.8 0l3.8 -3.8M268.6 169.9l3.8 3.8m-3.8 0l3.8 -3.8M250.9 184.9l3.8 3.8m-3.8 0l3.8 -3.8M238.4 192.5l3.8 3.8m-3.8 0l3.8 -3.8M245.2 188.6l3.8 3.8m-3.8 0l3.8 -3.8M286.4 160.7l3.8 3.8m-3.8 0l3.8 -3.8M286.9 160.8l3.8 3.8m-3.8 0l3.8 -3.8M249.9 192.3l3.8 3.8m-3.8 0l3.8 -3.8M278.2 164.7l3.8 3.8m-3.8 0l3.8 -3.8M231.1 199.6l3.8 3.8m-3.8 0l3.8 -3.8M250.8 191.9l3.8 3.8m-3.8 0l3.8 -3.8M239.9 192.5l3.8 3.8m-3.8 0l3.8 -3.8M282.8 161.3l3.8 3.8m-3.8 0l3.8 -3.8M253.2 189.7l3.8 3.8m-3.8 0l3.8 -3.8M274.9 164.0l3.8 3.8m-3.8 0l3.8 -3.8M230.2 199.7l3.8 3.8m-3.8 0l3.8 -3.8M284.2 161.8l3.8 3.8m-3.8 0l3.8 -3.8M273.7 174.5l3.8 3.8m-3.8 0l3.8 -3.8M248.8 185.8l3.8 3.8m-3.8 0l3.8 -3.8M286.5 165.3l3.8 3.8m-3.8 0l3.8 -3.8M244.1 195.2l3.8 3.8m-3.8 0l3.8 -3.8M247.4 186.6l3.8 3.8m-3.8 0l3.8 -3.8M228.3 200.8l3.8 3.8m-3.8 0l3.8 -3.8M284.0 167.6l3.8 3.8m-3.8 0l3.8 -3.8M285.6 160.6l3.8 3.8m-3.8 0l3.8 -3.8M242.4 191.7l3.8 3.8m-3.8 0l3.8 -3.8M286.5 166.5l3.8 3.8m-3.8 0l3.8 -3.8M251.7 184.1l3.8 3.8m-3.8 0l3.8 -3.8M254.3 184.8l3.8 3.8m-3.8 0l3.8 -3.8M284.7 161.4l3.8 3.8m-3.8 0l3.8 -3.8M277.1 171.7l3.8 3.8m-3.8 0l3.8 -3.8M278.3 171.3l3.8 3.8m-3.8 0l3.8 -3.8M265.1 171.6l3.8 3.8m-3.8 0l3.8 -3.8M247.6 187.1l3.8 3.8m-3.8 0l3.8 -3.8M275.8 163.5l3.8 3.8m-3.8 0l3.8 -3.8M240.1 197.5l3.8 3.8m-3.8 0l3.8 -3.8M243.2 188.7l3.8 3.8m-3.8 0l3.8 -3.8M230.2 200.4l3.8 3.8m-3.8 0l3.8 -3.8M248.0 194.3l3.8 3.8m-3.8 0l3.8 -3.8M282.0 170.4l3.8 3.8m-3.8 0l3.8 -3.8M244.3 188.0l3.8 3.8m-3.8 0l3.8 -3.8M234.0 198.4l3.8 3.8m-3.8 0l3.8 -3.8M271.4 169.0l3.8 3.8m-3.8 0l3.8 -3.8M242.4 190.9l3.8 3.8m-3.8 0l3.8 -3.8M265.9 177.6l3.8 3.8m-3.8 0l3.8 -3.8M273.7 174.3l3.8 3.8m-3.8 0l3.8 -3.8M268.6 168.5l3.8 3.8m-3.8 0l3.8 -3.8M279.4 163.2l3.8 3.8m-3.8 0l3.8 -3.8M262.7 175.0l3.8 3.8m-3.8 0l3.8 -3.8M273.1 165.9l3.8 3.8m-3.8 0l3.8 -3.8M243.2 189.3l3.8 3.8m-3.8 0l3.8 -3.8M237.5 199.3l3.8 3.8m-3.8 0l3.8 -3.8M263.4 173.6l3.8 3.8m-3.8 0l3.8 -3.8M252.3 191.0l3.8 3.8m-3.8 0l3.8 -3.8M259.0 179.0l3.8 3.8m-3.8 0l3.8 -3.8M277.4 170.9l3.8 3.8m-3.8 0l3.8 -3.8M288.5 160.5l3.8 3.8m-3.8 0l3.8 -3.8M257.1 185.6l3.8 3.8m-3.8 0l3.8 -3.8M279.4 171.4l3.8 3.8m-3.8 0l3.8 -3.8M230.6 199.6l3.8 3.8m-3.8 0l3.8 -3.8M235.4 195.7l3.8 3.8m-3.8 0l3.8 -3.8M287.5 163.5l3.8 3.8m-3.8 0l3.8 -3.8M284.8 162.2l3.8 3.8m-3.8 0l3.8 -3.8M280.9 164.2l3.8 3.8m-3.8 0l3.8 -3.8M244.0 195.6l3.8 3.8m-3.8 0l3.8 -3.8M285.8 160.8l3.8 3.8m-3.8 0l3.8 -3.8M264.5 178.0l3.8 3.8m-3.8 0l3.8 -3.8M241.4 191.3l3.8 3.8m-3.8 0l3.8 -3.8M236.7 194.6l3.8 3.8m-3.8 0l3.8 -3.8M243.6 194.7l3.8 3.8m-3.8 0l3.8 -3.8M267.9 169.3l3.8 3.8m-3.8 0l3.8 -3.8M228.1 200.9l3.8 3.8m-3.8 0l3.8 -3.8M289.1 160.6l3.8 3.8m-3.8 0l3.8 -3.8" stroke="#000" stroke-width="1.2" fill="none"/>
<path d="M214.4 214.6l4.4 4.4m-4.4 0l4.4 -4.4M223.5 214.6l4.4 4.4m-4.4 0l4.4 -4.4M289.3 156.6l4.4 4.4m-4.4 0l4.4 -4.4M293.1 159.1l4.4 4.4m-4.4 0l4.4 -4.4M285.5 167.3l4.4 4.4m-4.4 0l4.4 -4.4M227.8 200.6l4.4 4.4m-4.4 0l4.4 -4.4M230.3 201.8l4.4 4.4m-4.4 0l4.4 -4.4" stroke="#000" stroke-width="1.3" fill="none"/>
<text x="1.2" y="280.8" font-size="17.6" font-weight="bold">B</text>
<line x1="47.4" y1="289.6" x2="47.4" y2="362.59999999999997" stroke="#000" stroke-width="1.4"/>
<line x1="46.699999999999996" y1="361.9" x2="118.60000000000001" y2="361.9" stroke="#000" stroke-width="1.4"/>
<line x1="44.8" y1="289.9" x2="47.4" y2="289.9" stroke="#000" stroke-width="1.1"/>
<text x="44.199999999999996" y="294.2" font-size="12" text-anchor="end">90</text>
<line x1="44.8" y1="313.9" x2="47.4" y2="313.9" stroke="#000" stroke-width="1.1"/>
<text x="44.199999999999996" y="318" font-size="12" text-anchor="end">60</text>
<line x1="44.8" y1="337.9" x2="47.4" y2="337.9" stroke="#000" stroke-width="1.1"/>
<text x="44.199999999999996" y="341.8" font-size="12" text-anchor="end">30</text>
<line x1="44.8" y1="361.9" x2="47.4" y2="361.9" stroke="#000" stroke-width="1.1"/>
<text x="44.199999999999996" y="365.3" font-size="12" text-anchor="end">0</text>
<line x1="82.6" y1="361.9" x2="82.6" y2="364.09999999999997" stroke="#000" stroke-width="1.1"/>
<line x1="117.80000000000001" y1="361.9" x2="117.80000000000001" y2="364.09999999999997" stroke="#000" stroke-width="1.1"/>
<text x="45.7" y="374.6" font-size="12" text-anchor="middle">-0.2</text>
<text x="82.8" y="374.6" font-size="12" text-anchor="middle">0</text>
<text x="117.5" y="374.6" font-size="12" text-anchor="middle">0.2</text>
<text x="83" y="387.6" font-size="14" text-anchor="middle" font-weight="bold">ε</text>
<text transform="translate(25.2,364.3) rotate(-90)" font-size="12.4">Frequency (%)</text>
<path d="M47.4 361.9C50.3 361.9 53.3 361.9 56.2 361.9C59.1 361.9 62.1 361.8 65.0 361.7C67.9 361.6 70.9 361.7 73.8 357.5C74.6 356.3 75.4 349.2 76.3 341.1C76.7 337.1 77.1 329.5 77.5 325.1C78.5 314.8 79.4 307.0 80.4 301.1C81.1 296.6 81.9 292.3 82.6 292.3C83.3 292.3 84.1 296.6 84.8 301.1C85.8 307.0 86.7 314.8 87.7 325.1C88.1 329.5 88.5 336.9 88.9 341.1C89.8 349.5 90.6 358.8 91.4 359.5C94.3 361.9 97.3 361.9 100.2 361.9C103.1 361.9 106.1 361.9 109.0 361.9C111.9 361.9 114.9 361.9 117.8 361.9" stroke="#1414e6" stroke-width="1.8" fill="none"/>
<path d="M47.4 358.8L50.5 364.2L44.3 364.2Z" fill="#1414e6"/>
<path d="M56.2 358.8L59.3 364.2L53.1 364.2Z" fill="#1414e6"/>
<path d="M65.0 358.8L68.1 364.2L61.9 364.2Z" fill="#1414e6"/>
<path d="M73.8 354.4L76.9 359.8L70.7 359.8Z" fill="#1414e6"/>
<path d="M82.6 289.2L85.7 294.6L79.5 294.6Z" fill="#1414e6"/>
<path d="M91.4 356.4L94.5 361.8L88.3 361.8Z" fill="#1414e6"/>
<path d="M100.2 358.8L103.3 364.2L97.1 364.2Z" fill="#1414e6"/>
<path d="M109.0 358.8L112.1 364.2L105.9 364.2Z" fill="#1414e6"/>
<path d="M117.8 358.8L120.9 364.2L114.7 364.2Z" fill="#1414e6"/>
<path d="M47.4 361.1C50.3 361.1 53.3 361.1 56.2 360.9C59.1 360.8 62.1 359.7 65.0 357.5C67.9 355.3 70.9 351.5 73.8 347.5C76.7 343.5 79.7 333.4 82.6 333.4C85.5 333.4 88.5 336.9 91.4 340.5C94.3 344.1 97.3 351.8 100.2 355.0C103.1 358.3 106.1 358.9 109.0 360.0C111.9 361.0 114.9 360.9 117.8 361.4" stroke="#f01414" stroke-width="2.1" fill="none"/>
<circle cx="47.4" cy="361.1" r="2.0" fill="#f77" stroke="#f01414" stroke-width="1.6"/>
<circle cx="56.2" cy="360.9" r="2.0" fill="#f77" stroke="#f01414" stroke-width="1.6"/>
<circle cx="65.0" cy="357.5" r="2.0" fill="#f77" stroke="#f01414" stroke-width="1.6"/>
<circle cx="73.8" cy="347.5" r="2.0" fill="#f77" stroke="#f01414" stroke-width="1.6"/>
<circle cx="82.6" cy="333.4" r="2.0" fill="#f77" stroke="#f01414" stroke-width="1.6"/>
<circle cx="91.4" cy="340.5" r="2.0" fill="#f77" stroke="#f01414" stroke-width="1.6"/>
<circle cx="100.2" cy="355.0" r="2.0" fill="#f77" stroke="#f01414" stroke-width="1.6"/>
<circle cx="109.0" cy="360.0" r="2.0" fill="#f77" stroke="#f01414" stroke-width="1.6"/>
<circle cx="117.8" cy="361.4" r="2.0" fill="#f77" stroke="#f01414" stroke-width="1.6"/>
<line x1="161.8" y1="289.6" x2="161.8" y2="362.59999999999997" stroke="#000" stroke-width="1.4"/>
<line x1="161.10000000000002" y1="361.9" x2="235.96000000000004" y2="361.9" stroke="#000" stroke-width="1.4"/>
<line x1="159.20000000000002" y1="289.9" x2="161.8" y2="289.9" stroke="#000" stroke-width="1.1"/>
<text x="158.8" y="294.2" font-size="12" text-anchor="end">90</text>
<line x1="159.20000000000002" y1="313.9" x2="161.8" y2="313.9" stroke="#000" stroke-width="1.1"/>
<text x="158.8" y="318" font-size="12" text-anchor="end">60</text>
<line x1="159.20000000000002" y1="337.9" x2="161.8" y2="337.9" stroke="#000" stroke-width="1.1"/>
<text x="158.8" y="341.8" font-size="12" text-anchor="end">30</text>
<line x1="159.20000000000002" y1="361.9" x2="161.8" y2="361.9" stroke="#000" stroke-width="1.1"/>
<text x="158.8" y="365.3" font-size="12" text-anchor="end">0</text>
<line x1="198.48000000000002" y1="361.9" x2="198.48000000000002" y2="364.09999999999997" stroke="#000" stroke-width="1.1"/>
<line x1="235.16000000000003" y1="361.9" x2="235.16000000000003" y2="364.09999999999997" stroke="#000" stroke-width="1.1"/>
<text x="162.8" y="374.6" font-size="12" text-anchor="middle">-0.2</text>
<text x="198.4" y="374.6" font-size="12" text-anchor="middle">0</text>
<text x="236" y="374.6" font-size="12" text-anchor="middle">0.2</text>
<text x="198.4" y="387.6" font-size="14" text-anchor="middle" font-weight="bold">π</text>
<text transform="translate(141,364.3) rotate(-90)" font-size="12.4">Frequency (%)</text>
<path d="M161.8 361.9C164.9 361.9 167.9 361.9 171.0 361.9C174.0 361.9 177.1 361.8 180.1 361.7C183.2 361.6 186.3 361.7 189.3 355.5C190.3 353.4 191.4 337.3 192.4 329.1C193.1 323.8 193.8 319.1 194.4 314.3C195.1 309.5 195.8 303.5 196.5 300.3C197.1 297.1 197.8 295.1 198.5 295.1C199.2 295.1 199.8 297.1 200.5 300.3C201.2 303.5 201.8 309.5 202.5 314.3C203.2 319.1 203.9 323.3 204.5 329.1C205.6 338.0 206.6 359.2 207.7 359.9C210.7 361.9 213.8 361.9 216.8 361.9C219.9 361.9 222.9 361.9 226.0 361.9C229.0 361.9 232.1 361.9 235.2 361.9" stroke="#1414e6" stroke-width="1.8" fill="none"/>
<path d="M161.8 358.8L164.9 364.2L158.7 364.2Z" fill="#1414e6"/>
<path d="M171.0 358.8L174.1 364.2L167.9 364.2Z" fill="#1414e6"/>
<path d="M180.1 358.8L183.2 364.2L177.0 364.2Z" fill="#1414e6"/>
<path d="M189.3 352.4L192.4 357.8L186.2 357.8Z" fill="#1414e6"/>
<path d="M198.5 292.0L201.6 297.4L195.4 297.4Z" fill="#1414e6"/>
<path d="M207.7 356.8L210.8 362.2L204.6 362.2Z" fill="#1414e6"/>
<path d="M216.8 358.8L219.9 364.2L213.7 364.2Z" fill="#1414e6"/>
<path d="M226.0 358.8L229.1 364.2L222.9 364.2Z" fill="#1414e6"/>
<path d="M235.2 358.8L238.3 364.2L232.1 364.2Z" fill="#1414e6"/>
<path d="M161.8 361.1C164.9 360.6 167.9 360.4 171.0 359.5C174.0 358.6 177.1 357.3 180.1 355.5C183.2 353.7 186.3 350.9 189.3 348.6C192.4 346.4 195.4 341.9 198.5 341.9C201.5 341.9 204.6 342.6 207.7 344.3C210.7 346.0 213.8 349.6 216.8 351.8C219.9 354.0 222.9 356.2 226.0 357.7C229.0 359.1 232.1 359.7 235.2 360.7" stroke="#f01414" stroke-width="2.1" fill="none"/>
<circle cx="161.8" cy="361.1" r="2.0" fill="#f77" stroke="#f01414" stroke-width="1.6"/>
<circle cx="171.0" cy="359.5" r="2.0" fill="#f77" stroke="#f01414" stroke-width="1.6"/>
<circle cx="180.1" cy="355.5" r="2.0" fill="#f77" stroke="#f01414" stroke-width="1.6"/>
<circle cx="189.3" cy="348.6" r="2.0" fill="#f77" stroke="#f01414" stroke-width="1.6"/>
<circle cx="198.5" cy="341.9" r="2.0" fill="#f77" stroke="#f01414" stroke-width="1.6"/>
<circle cx="207.7" cy="344.3" r="2.0" fill="#f77" stroke="#f01414" stroke-width="1.6"/>
<circle cx="216.8" cy="351.8" r="2.0" fill="#f77" stroke="#f01414" stroke-width="1.6"/>
<circle cx="226.0" cy="357.7" r="2.0" fill="#f77" stroke="#f01414" stroke-width="1.6"/>
<circle cx="235.2" cy="360.7" r="2.0" fill="#f77" stroke="#f01414" stroke-width="1.6"/>
<line x1="279.3" y1="289.6" x2="279.3" y2="362.59999999999997" stroke="#000" stroke-width="1.4"/>
<line x1="278.6" y1="361.9" x2="355.14000000000004" y2="361.9" stroke="#000" stroke-width="1.4"/>
<line x1="276.7" y1="289.9" x2="279.3" y2="289.9" stroke="#000" stroke-width="1.1"/>
<text x="276.5" y="294.2" font-size="12" text-anchor="end">90</text>
<line x1="276.7" y1="313.9" x2="279.3" y2="313.9" stroke="#000" stroke-width="1.1"/>
<text x="276.5" y="318" font-size="12" text-anchor="end">60</text>
<line x1="276.7" y1="337.9" x2="279.3" y2="337.9" stroke="#000" stroke-width="1.1"/>
<text x="276.5" y="341.8" font-size="12" text-anchor="end">30</text>
<line x1="276.7" y1="361.9" x2="279.3" y2="361.9" stroke="#000" stroke-width="1.1"/>
<text x="276.5" y="365.3" font-size="12" text-anchor="end">0</text>
<line x1="316.82" y1="361.9" x2="316.82" y2="364.09999999999997" stroke="#000" stroke-width="1.1"/>
<line x1="354.34000000000003" y1="361.9" x2="354.34000000000003" y2="364.09999999999997" stroke="#000" stroke-width="1.1"/>
<text x="278.5" y="374.6" font-size="12" text-anchor="middle">-2</text>
<text x="316.5" y="374.6" font-size="12" text-anchor="middle">0</text>
<text x="353.8" y="374.6" font-size="12" text-anchor="middle">2</text>
<text x="316.5" y="387.5" font-size="13.5" text-anchor="middle" font-weight="bold">S</text>
<text transform="translate(260.6,364.3) rotate(-90)" font-size="12.4">Frequency (%)</text>
<path d="M279.3 361.9C282.4 361.9 285.6 361.9 288.7 361.9C291.8 361.9 294.9 361.5 298.1 361.1C301.2 360.7 304.3 361.1 307.4 353.9C308.2 352.1 309.0 341.9 309.8 334.7C310.4 328.9 311.0 320.0 311.7 315.5C312.6 308.7 313.5 306.1 314.5 303.5C315.3 301.3 316.0 300.3 316.8 300.3C317.6 300.3 318.4 301.3 319.2 303.5C320.1 306.1 321.0 308.5 322.0 315.5C322.6 320.2 323.2 329.4 323.9 335.5C324.6 343.1 325.4 355.1 326.2 356.3C329.3 361.1 332.5 360.8 335.6 361.1C338.7 361.4 341.8 361.6 345.0 361.9" stroke="#1414e6" stroke-width="1.8" fill="none"/>
<path d="M279.3 358.8L282.4 364.2L276.2 364.2Z" fill="#1414e6"/>
<path d="M288.7 358.8L291.8 364.2L285.6 364.2Z" fill="#1414e6"/>
<path d="M298.1 358.0L301.2 363.4L295.0 363.4Z" fill="#1414e6"/>
<path d="M307.4 350.8L310.5 356.2L304.3 356.2Z" fill="#1414e6"/>
<path d="M316.8 297.2L319.9 302.6L313.7 302.6Z" fill="#1414e6"/>
<path d="M326.2 353.2L329.3 358.6L323.1 358.6Z" fill="#1414e6"/>
<path d="M335.6 358.0L338.7 363.4L332.5 363.4Z" fill="#1414e6"/>
<path d="M345.0 358.8L348.1 364.2L341.9 364.2Z" fill="#1414e6"/>
<path d="M279.3 361.5C282.4 361.4 285.6 361.4 288.7 361.1C291.8 360.8 294.9 361.1 298.1 359.5C301.2 357.9 304.3 355.9 307.4 349.1C310.6 342.3 313.7 318.7 316.8 318.7C319.9 318.7 323.1 335.6 326.2 342.3C329.3 349.0 332.5 356.0 335.6 358.7C338.7 361.4 341.8 360.7 345.0 361.5" stroke="#f01414" stroke-width="2.1" fill="none"/>
<circle cx="279.3" cy="361.5" r="2.0" fill="#f77" stroke="#f01414" stroke-width="1.6"/>
<circle cx="288.7" cy="361.1" r="2.0" fill="#f77" stroke="#f01414" stroke-width="1.6"/>
<circle cx="298.1" cy="359.5" r="2.0" fill="#f77" stroke="#f01414" stroke-width="1.6"/>
<circle cx="307.4" cy="349.1" r="2.0" fill="#f77" stroke="#f01414" stroke-width="1.6"/>
<circle cx="316.8" cy="318.7" r="2.0" fill="#f77" stroke="#f01414" stroke-width="1.6"/>
<circle cx="326.2" cy="342.3" r="2.0" fill="#f77" stroke="#f01414" stroke-width="1.6"/>
<circle cx="335.6" cy="358.7" r="2.0" fill="#f77" stroke="#f01414" stroke-width="1.6"/>
<circle cx="345.0" cy="361.5" r="2.0" fill="#f77" stroke="#f01414" stroke-width="1.6"/>
<line x1="84.5" y1="275.7" x2="99.5" y2="275.7" stroke="#1414e6" stroke-width="1.5"/>
<path d="M92.0 272.2L95.5 278.3L88.5 278.3Z" fill="#1414e6"/>
<text x="103.8" y="280.3" font-size="12.5">Sex Ratio</text>
<line x1="182" y1="275.5" x2="196.5" y2="275.5" stroke="#f01414" stroke-width="1.7"/>
<circle cx="189.3" cy="275.5" r="2.3" fill="#f77" stroke="#f01414" stroke-width="1.6"/>
<text x="201" y="280.2" font-size="12.5">Body Length</text>
<text x="0.8" y="421.2" font-size="18" font-weight="bold">C</text>
<rect x="37.3" y="422.8" width="39.5" height="80.3" fill="#f1ef98"/>
<line x1="36.5" y1="421.6" x2="36.5" y2="557.8" stroke="#000" stroke-width="1.7"/>
<line x1="35.7" y1="557" x2="171" y2="557" stroke="#000" stroke-width="1.6"/>
<line x1="77.0" y1="451.5" x2="77.0" y2="516.6" stroke="#333" stroke-width="1.2"/>
<text x="101.3" y="419.7" font-size="14.4" text-anchor="middle">Sex Ratio</text>
<text x="33.3" y="429.7" font-size="12" text-anchor="end">10</text>
<text x="33.2" y="506.4" font-size="12.3" text-anchor="end">0.8</text>
<text x="33.2" y="561.2" font-size="12" text-anchor="end">0</text>
<text x="36.9" y="568.7" font-size="12" text-anchor="middle">0</text>
<text x="77.1" y="568.7" font-size="12.3" text-anchor="middle">0.05</text>
<text x="170" y="568.7" font-size="12" text-anchor="middle">1</text>
<text x="9.3" y="488.8" font-size="14.5" text-anchor="middle" font-weight="bold">|S|</text>
<line x1="31.2" y1="446.8" x2="41.8" y2="452.9" stroke="#000" stroke-width="1.4"/>
<line x1="31.2" y1="451.6" x2="41.8" y2="457.5" stroke="#000" stroke-width="1.4"/>
<rect x="221.20000000000002" y="422.8" width="40.10000000000001" height="80.3" fill="#f1ef98"/>
<line x1="220.4" y1="421.6" x2="220.4" y2="557.8" stroke="#000" stroke-width="1.7"/>
<line x1="219.6" y1="557" x2="354.3" y2="557" stroke="#000" stroke-width="1.6"/>
<line x1="261.5" y1="451.5" x2="261.5" y2="516.6" stroke="#333" stroke-width="1.2"/>
<text x="293" y="419.7" font-size="14.4" text-anchor="middle">Body Length</text>
<text x="217.20000000000002" y="429.7" font-size="12" text-anchor="end">10</text>
<text x="217.1" y="506.4" font-size="12.3" text-anchor="end">0.8</text>
<text x="217.1" y="561.2" font-size="12" text-anchor="end">0</text>
<text x="220.8" y="568.7" font-size="12" text-anchor="middle">0</text>
<text x="261.0" y="568.7" font-size="12.3" text-anchor="middle">0.05</text>
<text x="353.3" y="568.7" font-size="12" text-anchor="middle">1</text>
<text x="197.4" y="488.8" font-size="14.5" text-anchor="middle" font-weight="bold">|S|</text>
<line x1="215.1" y1="446.8" x2="225.70000000000002" y2="452.9" stroke="#000" stroke-width="1.4"/>
<line x1="215.1" y1="451.6" x2="225.70000000000002" y2="457.5" stroke="#000" stroke-width="1.4"/>
<line x1="63" y1="502.9" x2="130" y2="502.9" stroke="#000" stroke-width="1.6"/>
<line x1="247" y1="502.9" x2="313.7" y2="502.9" stroke="#000" stroke-width="1.6"/>
<line x1="124.6" y1="551.2" x2="131.3" y2="561.3" stroke="#000" stroke-width="1.4"/>
<line x1="128.5" y1="551.2" x2="134.9" y2="561.3" stroke="#000" stroke-width="1.4"/>
<line x1="309.1" y1="551.2" x2="315.8" y2="561.3" stroke="#000" stroke-width="1.4"/>
<line x1="313.0" y1="551.2" x2="319.4" y2="561.3" stroke="#000" stroke-width="1.4"/>
<text x="110" y="578.1" font-size="16" text-anchor="middle" font-weight="bold" font-style="italic">p</text>
<text x="293.8" y="578.1" font-size="16" text-anchor="middle" font-weight="bold" font-style="italic">p</text>
<circle cx="58.4" cy="460.1" r="1.9" fill="#0a0af0"/>
<circle cx="46.7" cy="480.2" r="6.2" fill="#f80808"/>
<circle cx="61" cy="513.2" r="2.2" fill="#0a0af0"/>
<circle cx="49.8" cy="542.2" r="1.2" fill="#f80808"/>
<circle cx="124.2" cy="517" r="11.1" fill="#0a0af0"/>
<circle cx="93.8" cy="537.2" r="10.2" fill="#f80808"/>
<circle cx="129.4" cy="461.9" r="0.6" fill="#0a0af0"/>
<circle cx="111.6" cy="430.9" r="2.9" fill="#0a0af0"/>
<circle cx="111.6" cy="443" r="2.9" fill="#f80808"/>
<text x="118" y="435.6" font-size="12.7">All pairs</text>
<text x="118" y="447.9" font-size="12.7">Interacting pairs</text>
<text x="48.4" y="454.7" font-size="12.4" class="p">7%</text>
<text x="50.5" y="496.8" font-size="12.4" class="p">23%</text>
<text x="92" y="492" font-size="12.4" class="p">0%</text>
<text x="119" y="473" font-size="12.4" class="p">2%</text>
<text x="52.3" y="528.2" font-size="12.4" class="p">11%</text>
<text x="52.4" y="547.2" font-size="12.4" class="p">6%</text>
<text x="135.5" y="523" font-size="12.4" class="p">80%</text>
<text x="105" y="543.6" font-size="12.4" class="p">71%</text>
<circle cx="246.3" cy="460" r="2.1" fill="#0a0af0"/>
<circle cx="232" cy="480.2" r="4.5" fill="#f80808"/>
<circle cx="248.6" cy="527.3" r="11.3" fill="#0a0af0"/>
<circle cx="232.9" cy="544.2" r="10.2" fill="#f80808"/>
<circle cx="312" cy="521.6" r="3.1" fill="#0a0af0"/>
<circle cx="283.9" cy="537.6" r="4.5" fill="#f80808"/>
<text x="233.3" y="454.4" font-size="12.4" class="p">7%</text>
<text x="235.5" y="495.3" font-size="12.4" class="p">15%</text>
<text x="224" y="514.4" font-size="12.4" class="p">81%</text>
<text x="244.2" y="550.4" font-size="12.4" class="p">71%</text>
<text x="307" y="472.2" font-size="12.4" class="p">0%</text>
<text x="277.7" y="494" font-size="12.4" class="p">0%</text>
<text x="320.7" y="523.4" font-size="12.4" class="p">12%</text>
<text x="287.3" y="544.4" font-size="12.4" class="p">15%</text>
</svg>
</body></html>
